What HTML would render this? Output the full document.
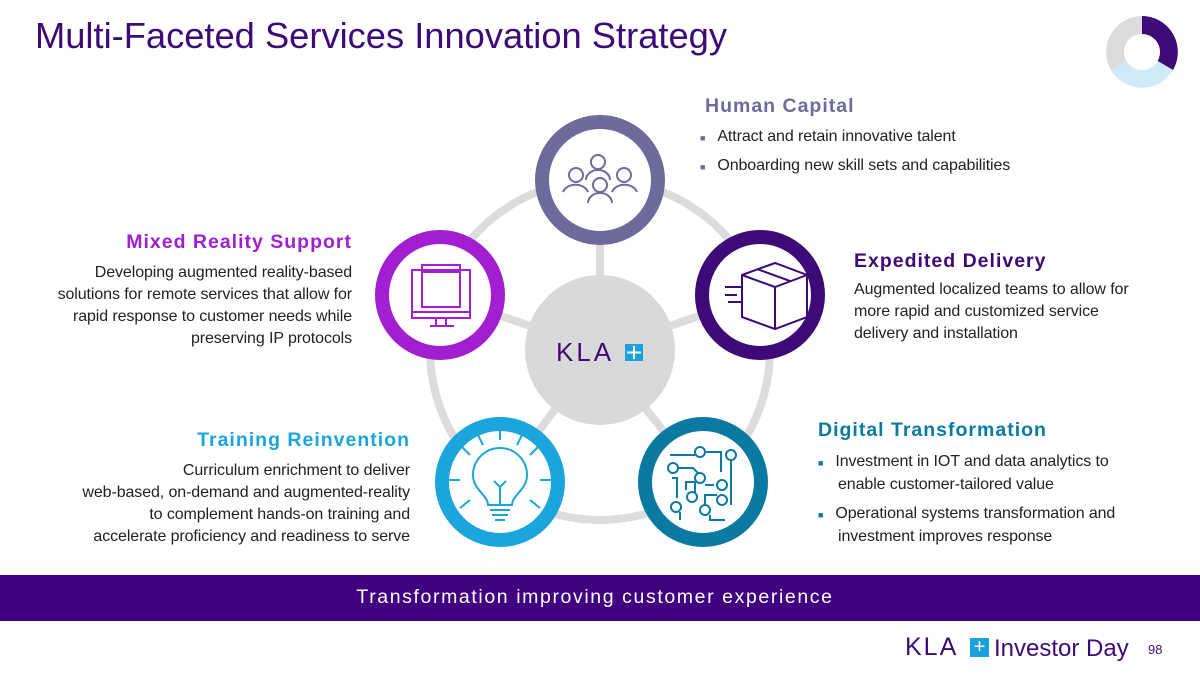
<!DOCTYPE html>
<html><head><meta charset="utf-8"><style>
body{margin:0;width:1200px;height:675px;overflow:hidden;background:#fff;font-family:"Liberation Sans",sans-serif;position:relative}
.a{position:absolute;white-space:nowrap}
h1{position:absolute;left:35px;top:15px;margin:0;font-weight:normal;font-size:36.3px;color:#3d0a78}
.t{font-weight:bold;font-size:19.5px;letter-spacing:1px}
.b{font-size:16px;color:#222;line-height:22px;letter-spacing:-0.1px}
.r{text-align:right}
</style></head><body>
<h1>Multi-Faceted Services Innovation Strategy</h1>
<svg class="a" style="left:0;top:0" width="1200" height="675">
<g transform="translate(1142,52)">
<path d="M0,-36 A36,36 0 0 1 31,18 L15.6,9 A18,18 0 0 0 0,-18Z" fill="#3d0a78"/>
<path d="M31,18 A36,36 0 0 1 -31,18 L-15.6,9 A18,18 0 0 0 15.6,9Z" fill="#cfe9f7"/>
<path d="M-31,18 A36,36 0 0 1 0,-36 L0,-18 A18,18 0 0 0 -15.6,9Z" fill="#dcdcde"/>
</g>
<circle cx="600" cy="350" r="170" fill="none" stroke="#dcdcdc" stroke-width="8"/>
<g stroke="#dcdcdc" stroke-width="8">
<line x1="600" y1="350" x2="600" y2="180"/><line x1="600" y1="350" x2="440" y2="295"/><line x1="600" y1="350" x2="760" y2="295"/><line x1="600" y1="350" x2="500" y2="482"/><line x1="600" y1="350" x2="703" y2="482"/>
</g>
<circle cx="600" cy="350" r="75" fill="#d9d9d9"/>
<text x="556" y="361" font-size="26" fill="#3d0a78" font-family="Liberation Sans" letter-spacing="3">KLA</text>
<rect x="625" y="344" width="18" height="17" fill="#1aa0dc"/><path d="M634,346v13M627,352.5h14" stroke="#fff" stroke-width="2"/>
<g fill="#fff" stroke-width="14">
<circle cx="600" cy="180" r="58" stroke="#6d6b9c"/>
<circle cx="440" cy="295" r="58" stroke="#a11fd0"/>
<circle cx="760" cy="295" r="58" stroke="#3d0a78"/>
<circle cx="500" cy="482" r="58" stroke="#1aa5dc"/>
<circle cx="703" cy="482" r="58" stroke="#0a7aa3"/>
</g>
<g fill="none" stroke="#6d6b9c" stroke-width="2">
<circle cx="598" cy="162" r="7"/><path d="M586,180a12,10 0 0 1 24,0"/>
<circle cx="576" cy="175" r="7"/><path d="M563,192a13,10 0 0 1 25,0"/>
<circle cx="624" cy="175" r="7"/><path d="M612,192a13,10 0 0 1 25,0"/>
<circle cx="600" cy="185" r="7"/><path d="M588,203a12,10 0 0 1 24,0"/>
</g>
<g fill="none" stroke="#a11fd0" stroke-width="2">
<rect x="412" y="270" width="58" height="48"/><rect x="422" y="265" width="38" height="42"/><line x1="422" y1="272" x2="460" y2="272"/>
<line x1="412" y1="312" x2="470" y2="312"/><path d="M436,318v8M446,318v8M430,326h24"/>
</g>
<g fill="none" stroke="#3d0a78" stroke-width="2">
<path d="M742,275l33,-12l32,12v42l-32,12l-33,-12z"/><path d="M742,275l33,12l32,-12M775,287v42M757,269l33,12"/>
<path d="M725,287h18M725,295h12M728,302h14"/>
</g>
<g fill="none" stroke="#1aa5dc" stroke-width="2">
<path d="M488,505c0,-10 -15,-15 -15,-30a27,27 0 0 1 54,0c0,15 -15,20 -15,30z"/>
<path d="M490,510h20M492,515h16M495,520h10M500,505v-18l-6,-6M500,487l6,-6"/>
<path d="M500,440v-15M470,455l-10,-10M530,455l10,-10M460,480h-18M540,480h18M470,500l-10,8M530,500l10,8M483,445l-6,-12M517,445l6,-12"/>
</g>
<g fill="none" stroke="#0a7aa3" stroke-width="2">
<circle cx="673" cy="468" r="5"/><circle cx="700" cy="452" r="5"/><circle cx="731" cy="455" r="5"/><circle cx="700" cy="478" r="5"/><circle cx="722" cy="485" r="5"/><circle cx="692" cy="497" r="5"/><circle cx="676" cy="507" r="5"/><circle cx="705" cy="510" r="5"/><circle cx="722" cy="500" r="5"/>
<path d="M670,455h25M678,468h15l5,5M706,452h15v20M731,460v45M672,478h5v20M686,490v-8h10M695,483v10M714,485h-9M705,505v-10h12M680,512v8M710,515v5h15"/>
</g>
<rect x="0" y="575" width="1200" height="46" fill="#41007f"/>
</svg>
<div class="a t" style="left:705px;top:95px;color:#6d6b9c">Human Capital</div>
<div class="a b" style="left:700px;top:126px"><span style="color:#6d6b9c;font-size:9px;margin-right:12px">■</span>Attract and retain innovative talent</div>
<div class="a b" style="left:700px;top:155px"><span style="color:#6d6b9c;font-size:9px;margin-right:12px">■</span>Onboarding new skill sets and capabilities</div>
<div class="a t r" style="right:848px;top:231px;color:#a11fd0">Mixed Reality Support</div>
<div class="a b r" style="right:848px;top:262px">Developing augmented reality-based<br>solutions for remote services that allow for<br>rapid response to customer needs while<br>preserving IP protocols</div>
<div class="a t" style="left:854px;top:250px;color:#3d0a78">Expedited Delivery</div>
<div class="a b" style="left:854px;top:279px">Augmented localized teams to allow for<br>more rapid and customized service<br>delivery and installation</div>
<div class="a t r" style="right:790px;top:429px;color:#1aa5dc">Training Reinvention</div>
<div class="a b r" style="right:790px;top:460px">Curriculum enrichment to deliver<br>web-based, on-demand and augmented-reality<br>to complement hands-on training and<br>accelerate proficiency and readiness to serve</div>
<div class="a t" style="left:818px;top:419px;color:#0a7aa3">Digital Transformation</div>
<div class="a b" style="left:818px;top:451px"><span style="color:#0a7aa3;font-size:9px;margin-right:12px">■</span>Investment in IOT and data analytics to<br><span style="margin-left:20px"></span>enable customer-tailored value</div>
<div class="a b" style="left:818px;top:503px"><span style="color:#0a7aa3;font-size:9px;margin-right:12px">■</span>Operational systems transformation and<br><span style="margin-left:20px"></span>investment improves response</div>
<div class="a" style="left:0;top:586px;width:1190px;text-align:center;color:#fff;font-size:19.5px;letter-spacing:1.6px">Transformation improving customer experience</div>
<div class="a" style="left:905px;top:633px;font-size:25px;color:#3d0a78;letter-spacing:2px">KLA</div>
<div class="a" style="left:970px;top:638px;width:19px;height:19px;background:#1aa0dc;color:#fff;font-size:20px;line-height:18px;text-align:center">+</div>
<div class="a" style="left:994px;top:635px;font-size:24px;color:#3d0a78">Investor Day</div>
<div class="a" style="left:1148px;top:642px;font-size:13px;color:#3d0a78">98</div>
</body></html>
